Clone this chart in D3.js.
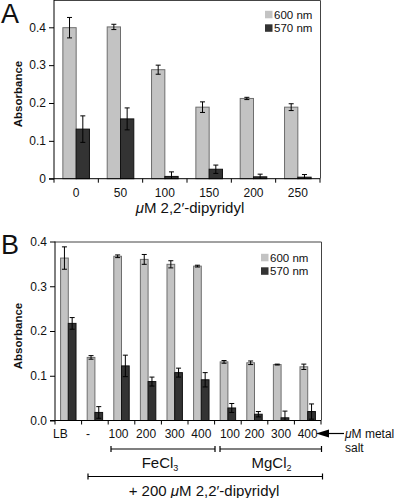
<!DOCTYPE html>
<html><head><meta charset="utf-8">
<script src="https://cdn.jsdelivr.net/npm/d3@7"></script>
<style>
html,body{margin:0;padding:0;background:#fff;}
svg text{font-family:"Liberation Sans",Arial,Helvetica,sans-serif;fill:#111;}
</style></head>
<body>
<svg id="c" width="400" height="498"></svg>
<script>
// ---- Data ----
const catsA = ["0","50","100","150","200","250"];
const a600 = [0.399,0.401,0.288,0.189,0.212,0.189];
const a600err = [0.027,0.007,0.012,0.014,0.003,0.009];
const a570 = [0.131,0.158,0.006,0.025,0.005,0.004];
const a570err = [0.035,0.029,0.012,0.011,0.007,0.007];
const ticksA = [0,0.1,0.2,0.3,0.4];

const catsB = ["LB","-","100","200","300","400","100","200","300","400"];
const b600 = [0.363,0.141,0.367,0.360,0.349,0.345,0.131,0.129,0.125,0.120];
const b600err = [0.025,0.004,0.003,0.011,0.008,0.002,0.003,0.004,0.001,0.006];
const b570 = [0.217,0.018,0.122,0.087,0.107,0.091,0.028,0.014,0.006,0.020];
const b570err = [0.013,0.013,0.024,0.010,0.010,0.016,0.010,0.006,0.015,0.017];
const ticksB = [0,0.1,0.2,0.3,0.4];

const seriesNames = ["600 nm","570 nm"];
const colors = {fill:["#c3c3c3","#333333"], stroke:["#6e6e6e","#111111"]};

const svg = d3.select("#c");

function panel(cfg){
  const g = svg.append("g");
  const x = d3.scaleBand().domain(d3.range(cfg.cats.length)).range([cfg.x0,cfg.x1]).padding(0);
  const y = d3.scaleLinear().domain(cfg.yDomain).range([cfg.yBottom,cfg.yTop]);
  const bw = x.bandwidth()*cfg.barFrac;
  const sub = d3.scaleBand().domain([0,1]).range([-bw, bw]);

  // frame (top & right)
  g.append("path").attr("class","frame").attr("d",`M${cfg.x0},${cfg.frameTop+0.5}H${cfg.x1+0.5}V${cfg.yBottom}`)
    .attr("fill","none").attr("stroke","#444").attr("stroke-width",1);

  const series = [[cfg.v600,cfg.e600],[cfg.v570,cfg.e570]];
  series.forEach(([vals,errs],si)=>{
    const sg = g.append("g");
    sg.selectAll("rect").data(vals).join("rect")
      .attr("x",(d,i)=>x(i)+x.bandwidth()/2+sub(si))
      .attr("y",d=>y(d))
      .attr("width",bw)
      .attr("height",d=>y(0)-y(d))
      .attr("fill",colors.fill[si]).attr("stroke",colors.stroke[si]).attr("stroke-width",1);
    const eg = sg.selectAll("g.err").data(vals).join("g").attr("class","err");
    eg.each(function(d,i){
      const cx = x(i)+x.bandwidth()/2+sub(si)+bw/2;
      const hi = y(d+errs[i]), lo = y(Math.max(0,d-errs[i]));
      const e = d3.select(this);
      e.append("line").attr("x1",cx).attr("x2",cx).attr("y1",hi).attr("y2",lo).attr("stroke","#000").attr("stroke-width",1);
      e.append("line").attr("x1",cx-2.5).attr("x2",cx+2.5).attr("y1",hi).attr("y2",hi).attr("stroke","#000").attr("stroke-width",1);
      if (d-errs[i] > 0)
        e.append("line").attr("x1",cx-2.5).attr("x2",cx+2.5).attr("y1",lo).attr("y2",lo).attr("stroke","#000").attr("stroke-width",1);
    });
  });

  // left axis
  const ya = d3.axisLeft(y).tickValues(cfg.ticks).tickSize(5).tickPadding(3).tickFormat(cfg.fmt);
  const yg = g.append("g").attr("transform",`translate(${cfg.x0},0)`).call(ya);
  yg.select(".domain").remove();
  yg.selectAll("text").attr("font-size",12).attr("fill","#111");
  g.append("line").attr("x1",cfg.x0).attr("x2",cfg.x0).attr("y1",cfg.frameTop).attr("y2",y(0)).attr("stroke","#000");

  // bottom axis: line + boundary ticks + labels
  g.append("line").attr("x1",cfg.x0-5).attr("x2",cfg.x1).attr("y1",y(0)).attr("y2",y(0)).attr("stroke","#000");
  const bounds = d3.range(cfg.cats.length+1).map(i=> i<cfg.cats.length ? x(i) : cfg.x1);
  g.selectAll("line.bt").data(bounds).join("line").attr("class","bt")
    .attr("x1",d=>d).attr("x2",d=>d).attr("y1",y(0)).attr("y2",y(0)+4).attr("stroke","#000");
  g.selectAll("text.cat").data(cfg.cats).join("text").attr("class","cat")
    .attr("x",(d,i)=>x(i)+x.bandwidth()/2 + (cfg.labelShift? cfg.labelShift[i]:0))
    .attr("y",y(0)+cfg.labelDy).attr("text-anchor","middle").attr("font-size",12).text(d=>d);

  // y title
  g.append("text").attr("transform",`translate(${cfg.titleX},${cfg.titleY}) rotate(-90)`)
    .attr("text-anchor","middle").attr("font-size",11.5).attr("font-weight","bold").text("Absorbance");

  // panel letter
  g.append("text").attr("x",cfg.letterX).attr("y",cfg.letterY).attr("font-size",27).text(cfg.letter);

  // legend
  const lg = g.append("g");
  seriesNames.forEach((n,i)=>{
    lg.append("rect").attr("x",cfg.legX).attr("y",cfg.legY+i*13.5-3.7).attr("width",7.5).attr("height",7.5)
      .attr("fill",colors.fill[i]);
    lg.append("text").attr("x",cfg.legX+9).attr("y",cfg.legY+i*13.5+4).attr("font-size",11.5).text(n);
  });
  return {g,x,y};
}

panel({cats:catsA,v600:a600,e600:a600err,v570:a570,e570:a570err,ticks:ticksA,
  fmt:d=>d===0?"0":d3.format(".1f")(d),
  x0:54,x1:320,yDomain:[0,0.4],yBottom:178.7,yTop:27.3,frameTop:0,barFrac:0.3,labelDy:18.5,
  titleX:22,titleY:94,letter:"A",letterX:1,letterY:23,legX:265,legY:14.5});

panel({cats:catsB,v600:b600,e600:b600err,v570:b570,e570:b570err,ticks:ticksB,
  fmt:d3.format(".1f"),
  x0:55,x1:321,yDomain:[0,0.4],yBottom:420.5,yTop:241.5,frameTop:241.5,barFrac:0.29,labelDy:17,
  labelShift:[-8,-7,-3,-2,0,0,2,0,0,0],
  titleX:22,titleY:336,letter:"B",letterX:1,letterY:254,legX:261,legY:257.5});

// A x title
svg.append("text").attr("x",190).attr("y",213).attr("text-anchor","middle").attr("font-size",15)
  .html('<tspan font-style="italic">μ</tspan>M 2,2′-dipyridyl');

// B annotations: arrow + label
const ay = 433.5;
svg.append("line").attr("x1",326).attr("x2",344).attr("y1",ay).attr("y2",ay).attr("stroke","#000").attr("stroke-width",1.2);
svg.append("path").attr("d",`M316,${ay}L329,${ay-4}L329,${ay+4}Z`).attr("fill","#000");
svg.append("text").attr("x",345).attr("y",437.5).attr("font-size",12).html('<tspan font-style="italic">μ</tspan>M metal');
svg.append("text").attr("x",345).attr("y",451.5).attr("font-size",12).text("salt");

function bracket(x1,x2,yy){
  svg.append("path").attr("d",`M${x1},${yy-3}V${yy+3}M${x1},${yy}H${x2}M${x2},${yy-3}V${yy+3}`)
    .attr("fill","none").attr("stroke","#000").attr("stroke-width",1.2);
}
bracket(111,215,449);
bracket(220,321.5,449);
bracket(88,322.5,476.5);

svg.append("text").attr("x",160).attr("y",467.5).attr("text-anchor","middle").attr("font-size",15)
  .html('FeCl<tspan font-size="9" dy="3">3</tspan>');
svg.append("text").attr("x",271.5).attr("y",467.5).attr("text-anchor","middle").attr("font-size",15)
  .html('MgCl<tspan font-size="9" dy="3">2</tspan>');
svg.append("text").attr("x",204).attr("y",496).attr("text-anchor","middle").attr("font-size",15)
  .html('+ 200 <tspan font-style="italic">μ</tspan>M 2,2′-dipyridyl');
</script>
</body></html>
